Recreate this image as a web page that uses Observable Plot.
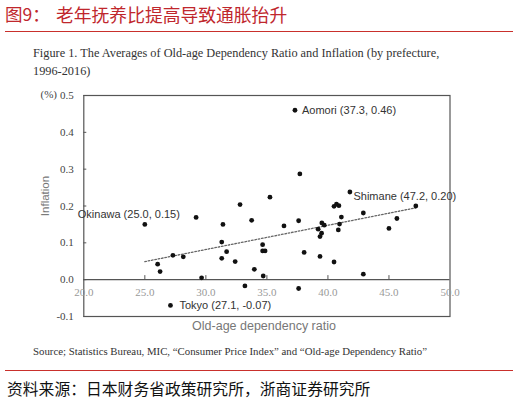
<!DOCTYPE html>
<html>
<head>
<meta charset="utf-8">
<script src="https://cdn.jsdelivr.net/npm/d3@7"></script>
<script src="https://cdn.jsdelivr.net/npm/@observablehq/plot@0.6"></script>
<style>
  html, body { margin: 0; padding: 0; background: #fff; }
  #wrap { position: relative; width: 520px; height: 402px; overflow: hidden; background: #fff; }
  .abs { position: absolute; white-space: nowrap; }
  .cjk { font-family: "Noto Sans CJK SC", sans-serif; }
  .serif { font-family: "Liberation Serif", "DejaVu Serif", serif; }
  .sans { font-family: "Liberation Sans", Arial, sans-serif; }
  #chart { position: absolute; left: 0; top: 80px; }
</style>
</head>
<body>
<div id="wrap">
  <div class="abs cjk" style="left:5px;top:4.5px;font-size:17.5px;line-height:18px;color:#c0272d;">图9：</div>
  <div class="abs cjk" style="left:56px;top:4.5px;font-size:17.8px;line-height:18px;color:#c0272d;">老年抚养比提高导致通胀抬升</div>
  <div class="abs" style="left:5px;top:31px;width:508px;height:1.3px;background:#c9302c;"></div>
  <div class="abs serif" style="left:33px;top:45.5px;font-size:12.3px;line-height:15px;color:#333;">Figure 1. The Averages of Old-age Dependency Ratio and Inflation (by prefecture,</div>
  <div class="abs serif" style="left:33px;top:63.5px;font-size:12.3px;line-height:15px;color:#333;">1996-2016)</div>
  <div id="chart"></div>
  <div class="abs serif" style="left:40.5px;top:88px;font-size:11px;line-height:13px;color:#444;">(%)</div>
  <div class="abs sans" style="left:45px;top:196px;font-size:11.5px;line-height:14px;color:#777;transform:translate(-50%,-50%) rotate(-90deg);">Inflation</div>
  <div class="abs sans" style="left:264px;top:325.7px;font-size:12.5px;line-height:15px;color:#777;transform:translate(-50%,-50%);">Old-age dependency ratio</div>
  <div class="abs serif" style="left:33px;top:344.5px;font-size:10.8px;line-height:13px;color:#333;">Source; Statistics Bureau, MIC, “Consumer Price Index” and “Old-age Dependency Ratio”</div>
  <div class="abs" style="left:5px;top:370.2px;width:508px;height:1.3px;background:#c9302c;"></div>
  <div class="abs cjk" style="left:7px;top:379.5px;font-size:15.8px;line-height:17px;color:#111;">资料来源：日本财务省政策研究所，浙商证券研究所</div>
</div>
<script>
// Old-age dependency ratio (x) and inflation (y), by prefecture, 1996-2016 averages
const ratio = [
  25.0, 26.05, 26.25, 27.3, 28.15, 29.2, 29.65, 31.3, 31.4, 31.3,
  31.7, 32.4, 32.8, 33.2, 33.75, 33.97, 27.1, 37.3, 34.7, 34.65,
  34.65, 34.85, 35.25, 36.4, 37.6, 37.7, 37.6, 38.05, 39.2, 39.35,
  39.35, 39.48, 39.5, 39.7, 40.5, 40.7, 40.9, 40.5, 40.85, 40.95,
  41.1, 41.8, 42.9, 42.9, 45.0, 45.65, 47.2
];
const inflation = [
  0.15, 0.042, 0.022, 0.066, 0.062, 0.169, 0.005, 0.102, 0.150, 0.058,
  0.076, 0.049, 0.204, -0.017, 0.161, 0.028, -0.07, 0.46, 0.010, 0.095,
  0.078, 0.078, 0.224, 0.146, 0.160, 0.287, -0.024, 0.074, 0.137, 0.063,
  0.117, 0.126, 0.154, 0.148, 0.199, 0.205, 0.201, 0.048, 0.135, 0.151,
  0.170, 0.238, 0.181, 0.015, 0.139, 0.166, 0.20
];

// Labelled prefectures
const labelText = ["Aomori (37.3, 0.46)", "Okinawa (25.0, 0.15)", "Tokyo (27.1, -0.07)", "Shimane (47.2, 0.20)"];
const labelRatio = [37.3, 25.0, 27.1, 47.2];
const labelInflation = [0.46, 0.15, -0.07, 0.20];

// Dotted trend line
const trendRatio = [25.0, 47.2];
const trendInflation = [0.049, 0.195];

// Axis ticks
const xTicks = [20, 25, 30, 35, 40, 45, 50];
const yTicks = [-0.1, 0.0, 0.1, 0.2, 0.3, 0.4, 0.5];

const points = ratio.map((r, i) => ({r, v: inflation[i]}));
const labels = labelText.map((t, i) => ({t, r: labelRatio[i], v: labelInflation[i]}));
const trend = trendRatio.map((r, i) => ({r, v: trendInflation[i]}));

const W = 520, H = 260, mL = 83.3, mR = 70.5, mT = 15, mB = 24;
const frameW = W - mL - mR;
const sans = "Liberation Sans, Arial, sans-serif";
const serif = "Liberation Serif, Times New Roman, serif";

const placement = [
  {dx: 7, dy: 0, textAnchor: "start"},
  {dx: -16, dy: -10, textAnchor: "middle"},
  {dx: 9, dy: 0, textAnchor: "start"},
  {dx: -11, dy: -10, textAnchor: "middle"}
];

const plot = Plot.plot({
  width: W, height: H,
  marginLeft: mL, marginRight: mR, marginTop: mT, marginBottom: mB,
  x: {domain: [20, 50], axis: null},
  y: {domain: [-0.1, 0.5], axis: null},
  style: {background: "transparent", fontFamily: serif, fontSize: "11px", overflow: "visible"},
  marks: [
    Plot.frame({stroke: "#555", strokeWidth: 1.2}),
    Plot.ruleY([0], {stroke: "#555", strokeWidth: 1.2}),
    Plot.ruleY(yTicks, {y: d => d, insetRight: frameW - 3, stroke: "#555", strokeWidth: 1}),
    Plot.ruleX(xTicks.slice(1, -1), {x: d => d, y1: 0, y2: 0.011, stroke: "#555", strokeWidth: 1}),
    Plot.text(yTicks, {y: d => d, text: d => d.toFixed(1), frameAnchor: "left", dx: -10, textAnchor: "end", fill: "#444", fontFamily: serif, fontSize: 11}),
    Plot.text(xTicks, {x: d => d, y: () => 0, text: d => d.toFixed(1), dy: 13, fill: "#999", fontFamily: serif, fontSize: 11}),
    Plot.line(trend, {x: "r", y: "v", stroke: "#666", strokeWidth: 1.3, strokeDasharray: "1.6,1.8"}),
    Plot.dot(points, {x: "r", y: "v", r: 2.4, fill: "#111", stroke: "none"}),
    ...labels.map((d, i) => Plot.text([d], {x: "r", y: "v", text: "t", ...placement[i], fill: "#333", fontFamily: sans, fontSize: 11}))
  ]
});
document.getElementById("chart").appendChild(plot);
</script>
</body>
</html>
